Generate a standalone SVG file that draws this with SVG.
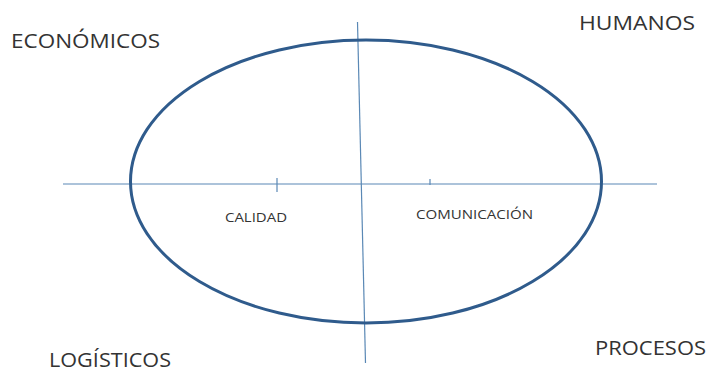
<svg xmlns="http://www.w3.org/2000/svg" width="709" height="374" viewBox="0 0 709 374">
<style>
.lbl{font-family:"Open Sans","Liberation Sans",sans-serif;fill:#333;}
.big{font-size:20px;}
.small{font-size:12px;}
.axis{stroke:#5a88b5;stroke-width:1.2;fill:none;}
</style>
<rect width="709" height="374" fill="#fff"/>
<g id="connectors">
<line class="axis" x1="63" y1="184" x2="657" y2="184"/>
<line class="axis" x1="357.5" y1="22" x2="365.5" y2="363"/>
<line class="axis" x1="277" y1="178" x2="277" y2="192"/>
<line class="axis" x1="430" y1="179" x2="430" y2="185"/>
</g>
<g id="ellipse">
<ellipse cx="366" cy="181.5" rx="235.5" ry="141.5" fill="none" stroke="#2f5b8c" stroke-width="3"/>
</g>
<g id="economicos"><text class="lbl big" x="11" y="48" textLength="149" lengthAdjust="spacingAndGlyphs">ECONÓMICOS</text></g>
<g id="humanos"><text class="lbl big" x="579" y="30" textLength="116" lengthAdjust="spacingAndGlyphs">HUMANOS</text></g>
<g id="logisticos"><text class="lbl big" x="49" y="367" textLength="122" lengthAdjust="spacingAndGlyphs">LOGÍSTICOS</text></g>
<g id="procesos"><text class="lbl big" x="595" y="355" textLength="111" lengthAdjust="spacingAndGlyphs">PROCESOS</text></g>
<g id="calidad"><text class="lbl small" x="225" y="222" textLength="62" lengthAdjust="spacingAndGlyphs">CALIDAD</text></g>
<g id="comunicacion"><text class="lbl small" x="416" y="219" textLength="117" lengthAdjust="spacingAndGlyphs">COMUNICACIÓN</text></g>
</svg>
